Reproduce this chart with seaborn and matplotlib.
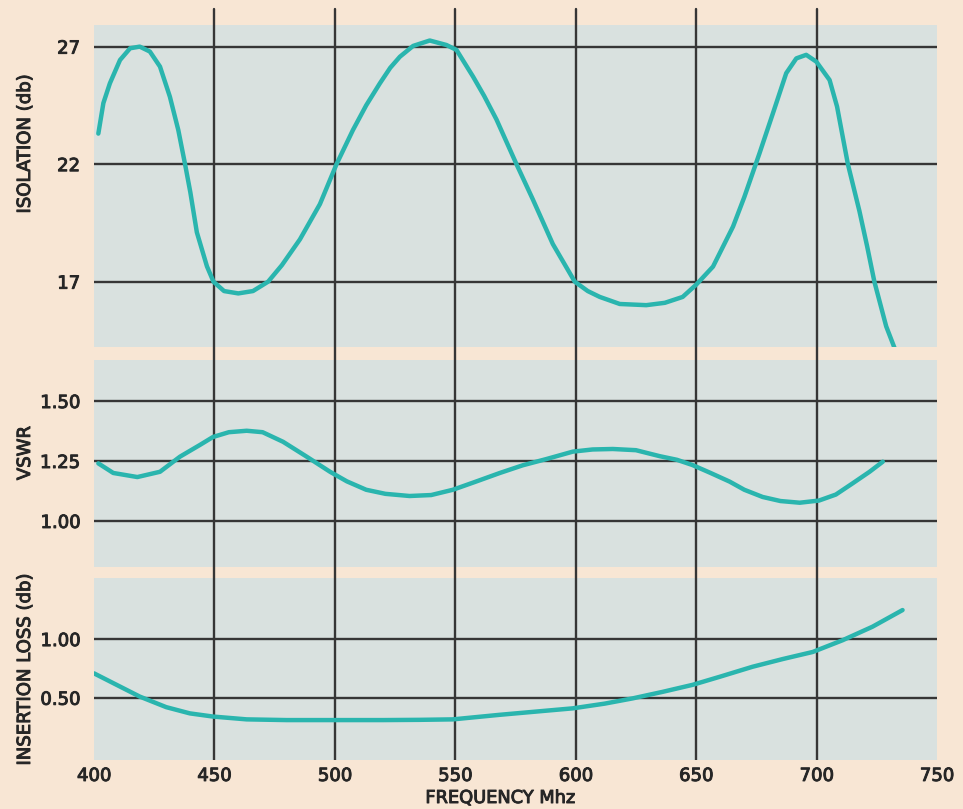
import matplotlib
matplotlib.use("Agg")
import matplotlib.pyplot as plt
import matplotlib.patheffects as pe
from matplotlib import transforms
from matplotlib.lines import Line2D
import seaborn as sns
import pandas as pd

# ---------------- data ----------------
iso_freq = [401.8, 403.9, 406.6, 410.8, 415, 419, 423.2, 427.4, 431.5, 435, 437.8,
            440, 442.7, 446.9, 449.6, 454, 459.9, 466, 472.3, 478, 485.5, 493.8, 500.7,
            507.5, 513, 518.7, 523, 527, 532.5, 539.4, 546.3, 550.5, 557.4, 562,
            567.1, 575.4, 582.2, 590.5, 599.6, 605, 610, 618.3, 629.3, 637, 644.4,
            650, 657, 665.3, 670, 676.3, 681.9, 687.4, 691.6, 695.7, 699.9, 705.4,
            708.5, 713, 717.8, 721, 724, 728.9, 732.4]
iso_val = [23.3, 24.6, 25.44, 26.43, 26.93, 27.0, 26.79, 26.15, 24.87, 23.45, 22.0,
           20.8, 19.1, 17.65, 17.0, 16.6, 16.5, 16.6, 17.0, 17.7, 18.8, 20.3, 22.0,
           23.45, 24.5, 25.44, 26.1, 26.57, 27.03, 27.26, 27.07, 26.86, 25.72, 24.9,
           23.9, 22.0, 20.5, 18.6, 17.0, 16.6, 16.35, 16.05, 16.0, 16.1, 16.35,
           16.87, 17.64, 19.34, 20.6, 22.46, 24.17, 25.87, 26.5, 26.65, 26.36, 25.58,
           24.45, 22.0, 20.0, 18.5, 17.0, 15.1, 14.17]

vswr_freq = [401.8, 408, 418, 427.4, 435.7, 444, 449.4, 456, 463.4, 470, 478.5,
             488.3, 498, 505, 513, 521, 531, 540, 549, 558, 568.5, 578, 587.8,
             598.8, 607, 615.4, 625, 634.9, 642, 648.5, 656, 663.9, 670, 677.6,
             685, 693, 701, 708, 715, 722, 727.5]
vswr_val = [1.24, 1.20, 1.183, 1.205, 1.268, 1.317, 1.35, 1.37, 1.376, 1.37, 1.33,
            1.268, 1.205, 1.165, 1.13, 1.113, 1.104, 1.108, 1.13, 1.162, 1.20, 1.232,
            1.258, 1.289, 1.298, 1.30, 1.295, 1.27, 1.255, 1.233, 1.20, 1.164, 1.13,
            1.10, 1.083, 1.076, 1.085, 1.11, 1.157, 1.205, 1.247]

il_freq = [400, 409.4, 419, 430, 439.8, 449.4, 463.4, 480, 500, 520, 535, 549,
           568.5, 585, 598.8, 612, 623.7, 636, 648.5, 660, 673.4, 686, 698.4,
           710.8, 723.2, 735.7]
il_val = [0.708, 0.61, 0.51, 0.42, 0.367, 0.34, 0.316, 0.31, 0.31, 0.31, 0.312, 0.316,
          0.355, 0.385, 0.41, 0.45, 0.495, 0.55, 0.61, 0.68, 0.764, 0.83, 0.89,
          0.99, 1.105, 1.247]

iso_ticks = [17, 22, 27]
vswr_ticks = [1.00, 1.25, 1.50]
il_ticks = [0.50, 1.00]
il_tick_labels = ["0.50", "1.00"]
vswr_tick_labels = ["1.00", "1.25", "1.50"]
iso_tick_labels = ["17", "22", "27"]
x_ticks = [400, 450, 500, 550, 600, 650, 700, 750]
x_grid = [450, 500, 550, 600, 650, 700]

# ---------------- style ----------------
PEACH = "#f8e6d4"
PANEL = "#d9e1df"
TEAL = "#2ab5ae"
GRID = "#363636"
TXT = "#262626"

sns.set_style("white")
plt.rcParams["font.family"] = ["DejaVu Sans"]

W, H = 963, 809
fig = plt.figure(figsize=(W / 100, H / 100), dpi=100, facecolor=PEACH)

left, right = 94, 937


def rect(top, bottom):
    return [left / W, 1 - bottom / H, (right - left) / W, (bottom - top) / H]


stroke = [pe.withStroke(linewidth=0.7, foreground=TXT)]

panels = [
    dict(rect=rect(25, 347), ylim=(14.22, 27.92), ticks=iso_ticks, labels=iso_tick_labels,
         x=iso_freq, y=iso_val, ylabel="ISOLATION (db)", ly=0.63),
    dict(rect=rect(360, 567), ylim=(0.808, 1.671), ticks=vswr_ticks, labels=vswr_tick_labels,
         x=vswr_freq, y=vswr_val, ylabel="VSWR", ly=0.55),
    dict(rect=rect(578, 760), ylim=(-0.03, 1.52), ticks=il_ticks, labels=il_tick_labels,
         x=il_freq, y=il_val, ylabel="INSERTION LOSS (db)", ly=0.495),
]

axes = []
for i, p in enumerate(panels):
    ax = fig.add_axes(p["rect"])
    ax.set_facecolor(PANEL)
    df = pd.DataFrame({"f": p["x"], "v": p["y"]})
    sns.lineplot(data=df, x="f", y="v", ax=ax, color=TEAL, lw=3.2, sort=False,
                 estimator=None, zorder=3)
    ax.lines[-1].set_solid_joinstyle("round")
    ax.lines[-1].set_solid_capstyle("round")
    ax.set_xlim(400, 750)
    ax.set_ylim(*p["ylim"])
    for t in p["ticks"]:
        ax.axhline(t, color=GRID, lw=1.7, zorder=1)
    for xv in x_grid:
        ax.axvline(xv, color=GRID, lw=1.7, zorder=1)
    ax.set_yticks(p["ticks"])
    ax.set_yticklabels(p["labels"])
    for s in ax.spines.values():
        s.set_visible(False)
    ax.tick_params(axis="y", length=0, pad=10, labelsize=13, colors=TXT)
    ax.set_ylabel(p["ylabel"], fontsize=13, color=TXT)
    ax.yaxis.set_label_coords((34 - left) / (right - left), p["ly"])
    ax.yaxis.label.set_path_effects(stroke)
    for lab in ax.get_yticklabels():
        lab.set_path_effects(stroke)
    if i < 2:
        ax.set_xticks([])
        ax.set_xlabel("")
    axes.append(ax)

axb = axes[-1]
axb.set_xticks(x_ticks)
axb.set_xticklabels([str(v) for v in x_ticks])
axb.tick_params(axis="x", length=0, pad=5, labelsize=13, colors=TXT)
for lab in axb.get_xticklabels():
    lab.set_path_effects(stroke)
axb.set_xlabel("FREQUENCY Mhz", fontsize=12.8, color=TXT)
axb.xaxis.set_label_coords(0.4816, (760 - 789) / (760 - 578))
axb.xaxis.label.set_path_effects(stroke)

# vertical grid lines continuing through the gaps between panels
blend = transforms.blended_transform_factory(axb.transData, fig.transFigure)
for xv in x_grid:
    fig.add_artist(Line2D([xv, xv], [1 - 758 / H, 1 - 9 / H], transform=blend,
                          color=GRID, lw=1.7, zorder=-1))

fig.savefig("out.png", dpi=100, facecolor=PEACH)
